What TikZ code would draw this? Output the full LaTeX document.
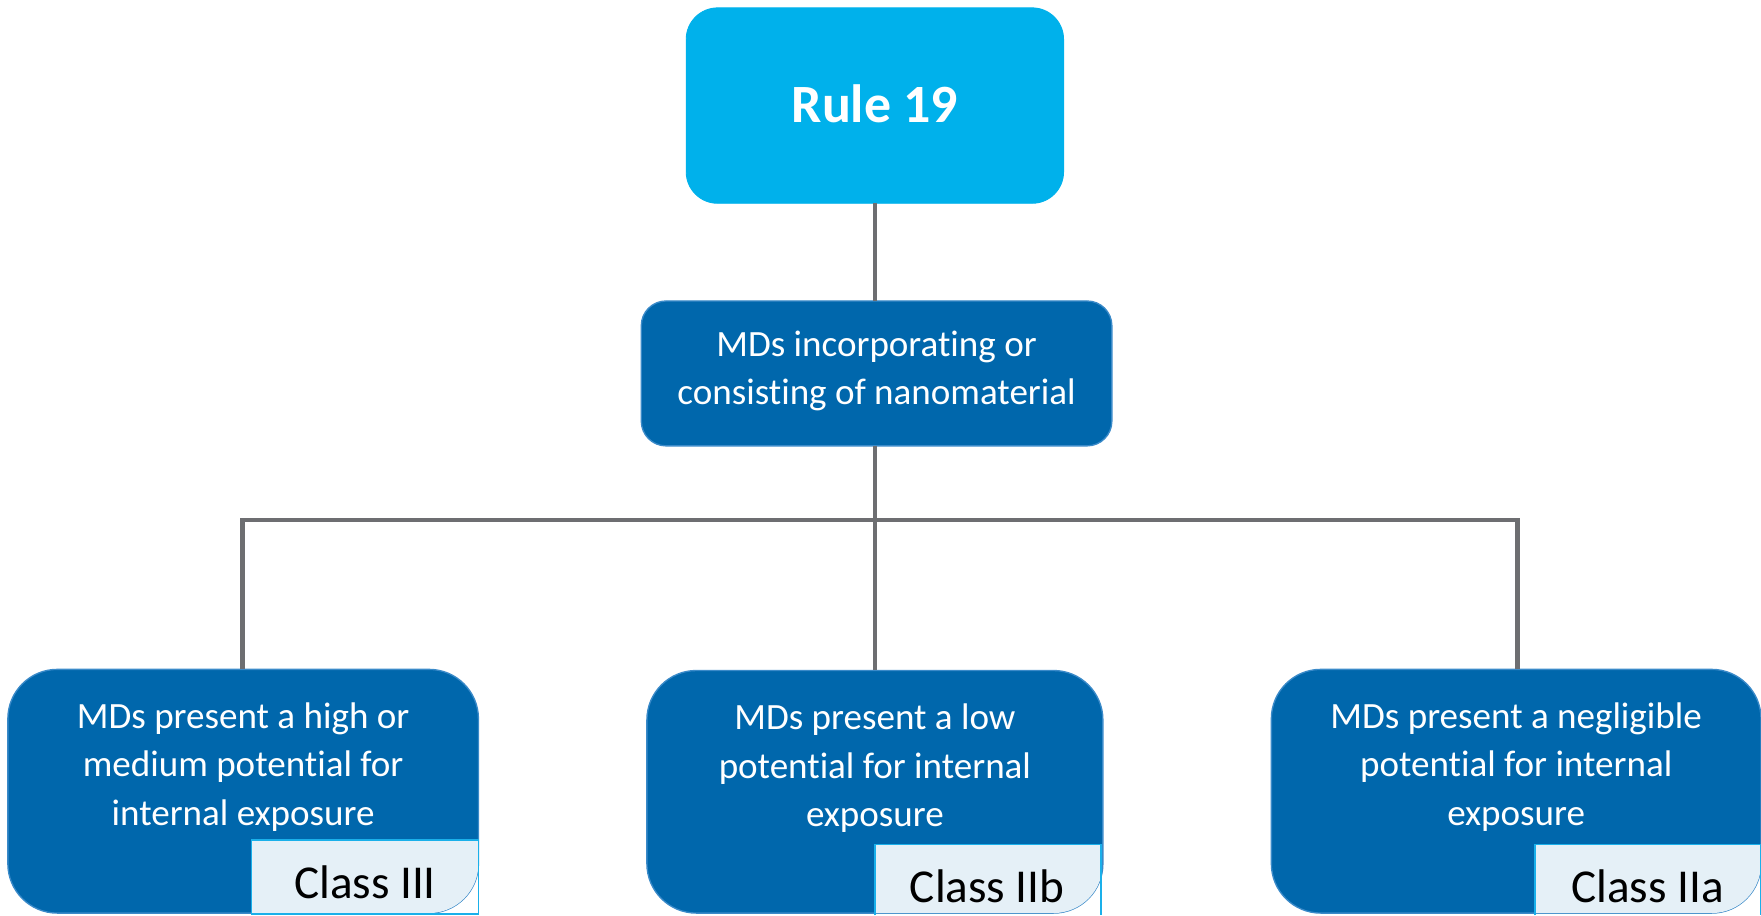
\documentclass[tikz,border=0pt]{standalone}
\usepackage{fontspec}
\setmainfont{Carlito}[Ligatures={NoCommon}]
\definecolor{rulecyan}{HTML}{00B1EB}
\definecolor{mdblue}{HTML}{0067AC}
\definecolor{mdedge}{HTML}{3A8AC9}
\definecolor{linkgray}{HTML}{6D6E71}
\definecolor{classfill}{HTML}{E5F0F7}
\definecolor{classedge}{HTML}{1AB0EA}
\tikzset{
  rulebox/.style={draw=rulecyan, fill=rulecyan, rounded corners=14pt, outer sep=0pt, inner sep=0pt},
  bluebox/.style={draw=mdedge, line width=0.6pt, fill=mdblue, rounded corners=#1, outer sep=0pt, inner sep=0pt},
  bluebox/.default=22pt,
  bodytext/.style={text=white, align=center, font=\fontsize{16.5}{21.5}\selectfont, inner sep=0pt},
  classtext/.style={text=black, font=\fontsize{21}{25}\selectfont, inner sep=0pt},
  link/.style={draw=linkgray, line width=2pt},
  classborder/.style={draw=classedge, line width=0.8pt},
}
\begin{document}
\begin{tikzpicture}[x=0.5pt,y=-0.5pt]
\useasboundingbox (0,0) rectangle (1568,815);
% top
\node[rulebox, minimum width=168pt, minimum height=87pt] (rule) at (779,94) {};
\node[text=white, font=\fontsize{24}{28}\selectfont\bfseries, inner sep=0pt] (ruletxt) at (779,92) {Rule 19};
% middle
\node[bluebox=11pt, minimum width=209.5pt, minimum height=64.5pt] (mid) at (780.5,332.5) {};
\node[bodytext] (midtxt) at (780.5,330) {MDs incorporating or\\consisting of nanomaterial};
% bottom boxes
\node[bluebox, minimum width=209.5pt, minimum height=108.5pt] (b1) at (216.5,704.5) {};
\node[bluebox, minimum width=203pt, minimum height=108pt] (b2) at (779,705) {};
\node[bluebox, minimum width=218pt, minimum height=108.5pt] (b3) at (1350,704.5) {};
% connectors
\coordinate (j) at (779,463);
\coordinate (jl) at (216,463);
\coordinate (jr) at (1351,463);
\draw[link] (rule.south) -- (rule.south |- mid.north);
\draw[link] (j |- mid.south) -- (j);
\draw[link, line cap=rect] (jl) -- (jr);
\draw[link] (jl) -- (jl |- b1.north);
\draw[link] (j) -- (b2.north);
\draw[link] (jr) -- (jr |- b3.north);
% class label fills clipped to the boxes
\begin{scope}
\clip[rounded corners=22pt] (b1.south west) rectangle (b1.north east);
\fill[classfill] (224,748) rectangle (426,815);
\end{scope}
\begin{scope}
\clip[rounded corners=22pt] (b2.south west) rectangle (b2.north east);
\fill[classfill] (779,752) rectangle (980,815);
\end{scope}
\begin{scope}
\clip[rounded corners=22pt] (b3.south west) rectangle (b3.north east);
\fill[classfill] (1367,752) rectangle (1568,815);
\end{scope}
\draw[classborder] (224,748) rectangle (426,814);
\draw[classborder] (779,815) -- (779,752) -- (980,752) -- (980,815);
\draw[classborder] (1367,815) -- (1367,752) -- (1567.5,752) -- (1567.5,815);
% texts
\node[bodytext] (t1) at (216.5,683) {MDs present a high or\\medium potential for\\internal exposure};
\node[bodytext] (t2) at (779,684) {MDs present a low\\potential for internal\\exposure};
\node[bodytext] (t3) at (1350,683) {MDs present a negligible\\potential for internal\\exposure};
\node[classtext] (c1) at (325,786) {Class III};
\node[classtext] (c2) at (879,789) {Class IIb};
\node[classtext] (c3) at (1467,789) {Class IIa};
\end{tikzpicture}
\end{document}
